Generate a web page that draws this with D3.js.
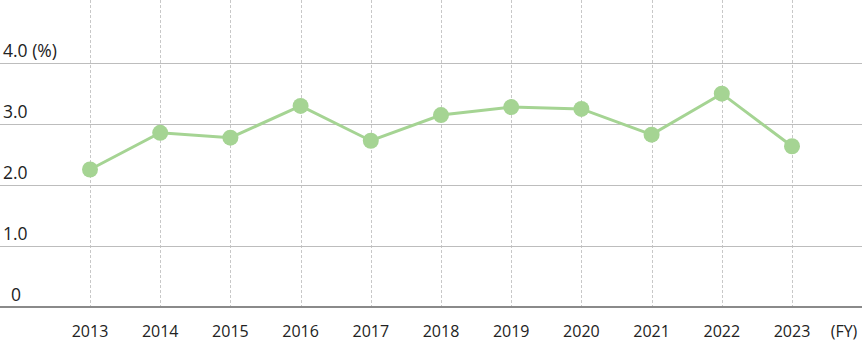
<!DOCTYPE html>
<html>
<head>
<meta charset="utf-8">
<script src="https://cdn.jsdelivr.net/npm/d3@7"></script>
<style>
  body { margin: 0; background: #fff; }
  svg text { font-family: "Open Sans", Lato, sans-serif; fill: #222; }
</style>
</head>
<body>
<svg id="chart" width="863" height="343"></svg>
<script>
const years = ['2013', '2014', '2015', '2016', '2017', '2018', '2019', '2020', '2021', '2022', '2023']
const rates = [2.25, 2.85, 2.77, 3.29, 2.72, 3.14, 3.27, 3.24, 2.82, 3.49, 2.63]
const yTicks = [0, 1, 2, 3, 4]
const yTickLabels = ['0', '1.0', '2.0', '3.0', '4.0 (%)']

const width = 863
const svg = d3.select('#chart')

const x = d3.scalePoint().domain(years).range([90, 792])
const y = d3.scaleLinear().domain([0, 4]).range([307, 62.5])

// vertical dashed guides, one per fiscal year
svg.append('g')
  .selectAll('line')
  .data(years)
  .join('line')
  .attr('x1', (d) => Math.round(x(d)) + 0.5)
  .attr('x2', (d) => Math.round(x(d)) + 0.5)
  .attr('y1', 0)
  .attr('y2', y(0))
  .attr('stroke', '#c8c8c8')
  .attr('stroke-dasharray', '3,2')

// horizontal grid
svg.append('g')
  .selectAll('line')
  .data(yTicks.filter((d) => d > 0))
  .join('line')
  .attr('x1', 0)
  .attr('x2', width - 1)
  .attr('y1', (d) => Math.round(y(d)) + 0.5)
  .attr('y2', (d) => Math.round(y(d)) + 0.5)
  .attr('stroke', '#bdbdbd')

svg.append('line')
  .attr('x1', 0)
  .attr('x2', width - 1)
  .attr('y1', y(0))
  .attr('y2', y(0))
  .attr('stroke', '#8a8a8a')
  .attr('stroke-width', 2)

// y labels sit just above their grid line
svg.append('g')
  .selectAll('text')
  .data(yTicks)
  .join('text')
  .attr('x', (d) => (d === 0 ? 11 : 3))
  .attr('y', (d) => y(d) - 6)
  .attr('font-size', 17.5)
  .text((d, i) => yTickLabels[i])

// x labels
svg.append('g')
  .selectAll('text')
  .data(years)
  .join('text')
  .attr('x', (d) => x(d))
  .attr('y', 337)
  .attr('text-anchor', 'middle')
  .attr('font-size', 16)
  .text((d) => d)

svg.append('text')
  .attr('x', 844)
  .attr('y', 337)
  .attr('text-anchor', 'middle')
  .attr('font-size', 16)
  .text('(FY)')

const line = d3.line()
  .x((d, i) => x(years[i]))
  .y((d) => y(d))

svg.append('path')
  .datum(rates)
  .attr('d', line)
  .attr('fill', 'none')
  .attr('stroke', '#a5d493')
  .attr('stroke-width', 3)

svg.append('g')
  .selectAll('circle')
  .data(rates)
  .join('circle')
  .attr('cx', (d, i) => x(years[i]))
  .attr('cy', (d) => y(d))
  .attr('r', 8)
  .attr('fill', '#a5d493')
</script>
</body>
</html>
